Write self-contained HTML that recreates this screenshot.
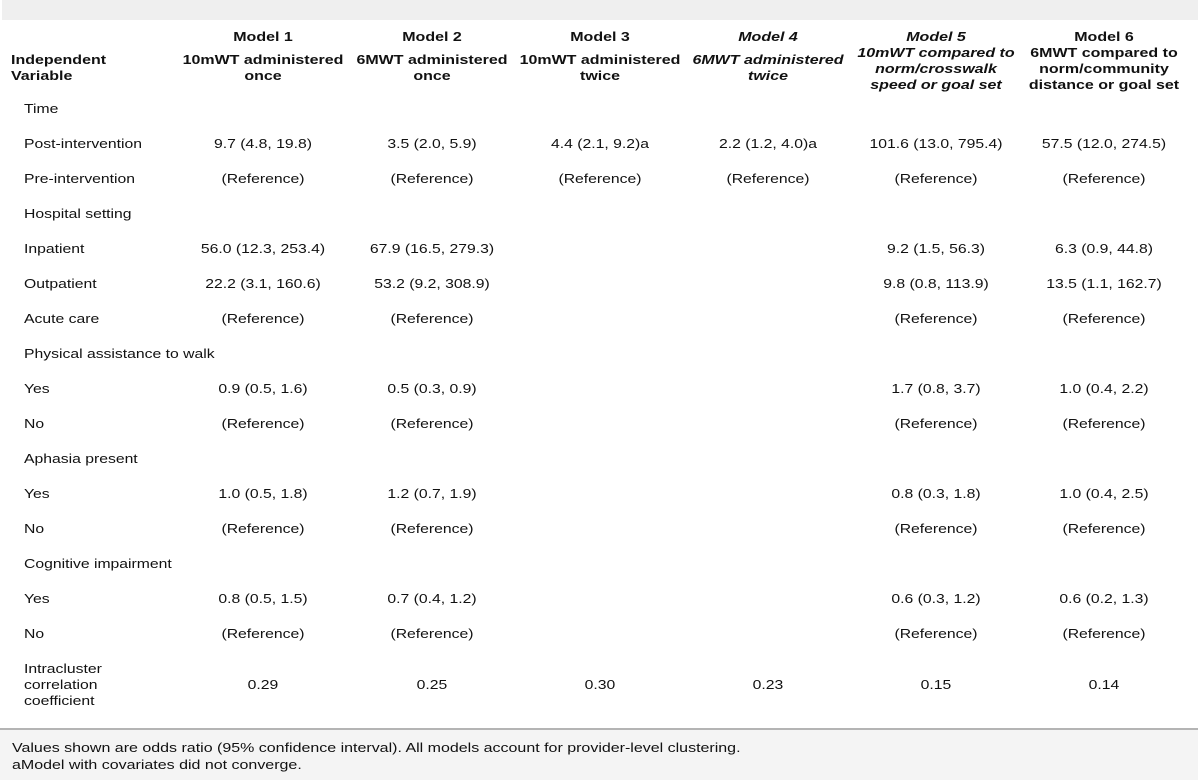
<!DOCTYPE html>
<html><head><meta charset="utf-8"><style>
html,body{margin:0;padding:0;}
body{width:1200px;height:782px;position:relative;background:#fff;font-family:"Liberation Sans",Arial,sans-serif;font-size:13px;color:#111;overflow:hidden;}
.t{position:absolute;line-height:16px;white-space:nowrap;transform:scaleX(1.21);transform-origin:0 0;}
.c{width:240px;margin-left:-120px;text-align:center;transform-origin:50% 0;}
.b{font-weight:bold;transform:scaleX(1.23);}
.i{font-style:italic;}
#top{position:absolute;left:2px;top:0;width:1196px;height:20px;background:#efefef;}
#line{position:absolute;left:0;top:728px;width:1198px;height:2px;background:#b4b4b4;}
#foot{position:absolute;left:0;top:730px;width:1198px;height:50px;background:#f4f4f4;}
</style></head><body>
<div id="top"></div>
<div id="line"></div>
<div id="foot"></div>
<div class="t b" style="left:11px;top:52px">Independent<br>Variable</div>
<div class="t b c" style="left:263px;top:29px">Model 1</div>
<div class="t b c" style="left:263px;top:52px">10mWT administered<br>once</div>
<div class="t b c" style="left:432px;top:29px">Model 2</div>
<div class="t b c" style="left:432px;top:52px">6MWT administered<br>once</div>
<div class="t b c" style="left:600px;top:29px">Model 3</div>
<div class="t b c" style="left:600px;top:52px">10mWT administered<br>twice</div>
<div class="t b i c" style="left:768px;top:29px">Model 4</div>
<div class="t b i c" style="left:768px;top:52px">6MWT administered<br>twice</div>
<div class="t b i c" style="left:936px;top:29px;line-height:16px">Model 5<br>10mWT compared to<br>norm/crosswalk<br>speed or goal set</div>
<div class="t b c" style="left:1104px;top:29px;line-height:16px">Model 6<br>6MWT compared to<br>norm/community<br>distance or goal set</div>

<div class="t" style="left:24px;top:101px">Time</div>
<div class="t" style="left:24px;top:136px">Post-intervention</div>
<div class="t c" style="left:263px;top:136px">9.7 (4.8, 19.8)</div>
<div class="t c" style="left:432px;top:136px">3.5 (2.0, 5.9)</div>
<div class="t c" style="left:600px;top:136px">4.4 (2.1, 9.2)a</div>
<div class="t c" style="left:768px;top:136px">2.2 (1.2, 4.0)a</div>
<div class="t c" style="left:936px;top:136px">101.6 (13.0, 795.4)</div>
<div class="t c" style="left:1104px;top:136px">57.5 (12.0, 274.5)</div>
<div class="t" style="left:24px;top:171px">Pre-intervention</div>
<div class="t c" style="left:263px;top:171px">(Reference)</div>
<div class="t c" style="left:432px;top:171px">(Reference)</div>
<div class="t c" style="left:600px;top:171px">(Reference)</div>
<div class="t c" style="left:768px;top:171px">(Reference)</div>
<div class="t c" style="left:936px;top:171px">(Reference)</div>
<div class="t c" style="left:1104px;top:171px">(Reference)</div>

<div class="t" style="left:24px;top:206px">Hospital setting</div>
<div class="t" style="left:24px;top:241px">Inpatient</div>
<div class="t c" style="left:263px;top:241px">56.0 (12.3, 253.4)</div>
<div class="t c" style="left:432px;top:241px">67.9 (16.5, 279.3)</div>
<div class="t c" style="left:936px;top:241px">9.2 (1.5, 56.3)</div>
<div class="t c" style="left:1104px;top:241px">6.3 (0.9, 44.8)</div>
<div class="t" style="left:24px;top:276px">Outpatient</div>
<div class="t c" style="left:263px;top:276px">22.2 (3.1, 160.6)</div>
<div class="t c" style="left:432px;top:276px">53.2 (9.2, 308.9)</div>
<div class="t c" style="left:936px;top:276px">9.8 (0.8, 113.9)</div>
<div class="t c" style="left:1104px;top:276px">13.5 (1.1, 162.7)</div>
<div class="t" style="left:24px;top:311px">Acute care</div>
<div class="t c" style="left:263px;top:311px">(Reference)</div>
<div class="t c" style="left:432px;top:311px">(Reference)</div>
<div class="t c" style="left:936px;top:311px">(Reference)</div>
<div class="t c" style="left:1104px;top:311px">(Reference)</div>

<div class="t" style="left:24px;top:346px">Physical assistance to walk</div>
<div class="t" style="left:24px;top:381px">Yes</div>
<div class="t c" style="left:263px;top:381px">0.9 (0.5, 1.6)</div>
<div class="t c" style="left:432px;top:381px">0.5 (0.3, 0.9)</div>
<div class="t c" style="left:936px;top:381px">1.7 (0.8, 3.7)</div>
<div class="t c" style="left:1104px;top:381px">1.0 (0.4, 2.2)</div>
<div class="t" style="left:24px;top:416px">No</div>
<div class="t c" style="left:263px;top:416px">(Reference)</div>
<div class="t c" style="left:432px;top:416px">(Reference)</div>
<div class="t c" style="left:936px;top:416px">(Reference)</div>
<div class="t c" style="left:1104px;top:416px">(Reference)</div>

<div class="t" style="left:24px;top:451px">Aphasia present</div>
<div class="t" style="left:24px;top:486px">Yes</div>
<div class="t c" style="left:263px;top:486px">1.0 (0.5, 1.8)</div>
<div class="t c" style="left:432px;top:486px">1.2 (0.7, 1.9)</div>
<div class="t c" style="left:936px;top:486px">0.8 (0.3, 1.8)</div>
<div class="t c" style="left:1104px;top:486px">1.0 (0.4, 2.5)</div>
<div class="t" style="left:24px;top:521px">No</div>
<div class="t c" style="left:263px;top:521px">(Reference)</div>
<div class="t c" style="left:432px;top:521px">(Reference)</div>
<div class="t c" style="left:936px;top:521px">(Reference)</div>
<div class="t c" style="left:1104px;top:521px">(Reference)</div>

<div class="t" style="left:24px;top:556px">Cognitive impairment</div>
<div class="t" style="left:24px;top:591px">Yes</div>
<div class="t c" style="left:263px;top:591px">0.8 (0.5, 1.5)</div>
<div class="t c" style="left:432px;top:591px">0.7 (0.4, 1.2)</div>
<div class="t c" style="left:936px;top:591px">0.6 (0.3, 1.2)</div>
<div class="t c" style="left:1104px;top:591px">0.6 (0.2, 1.3)</div>
<div class="t" style="left:24px;top:626px">No</div>
<div class="t c" style="left:263px;top:626px">(Reference)</div>
<div class="t c" style="left:432px;top:626px">(Reference)</div>
<div class="t c" style="left:936px;top:626px">(Reference)</div>
<div class="t c" style="left:1104px;top:626px">(Reference)</div>

<div class="t" style="left:24px;top:661px">Intracluster<br>correlation<br>coefficient</div>
<div class="t c" style="left:263px;top:677px">0.29</div>
<div class="t c" style="left:432px;top:677px">0.25</div>
<div class="t c" style="left:600px;top:677px">0.30</div>
<div class="t c" style="left:768px;top:677px">0.23</div>
<div class="t c" style="left:936px;top:677px">0.15</div>
<div class="t c" style="left:1104px;top:677px">0.14</div>

<div class="t" style="left:12px;top:739px;line-height:17px;transform:scaleX(1.23)">Values shown are odds ratio (95% confidence interval). All models account for provider-level clustering.<br>aModel with covariates did not converge.</div>
</body></html>
